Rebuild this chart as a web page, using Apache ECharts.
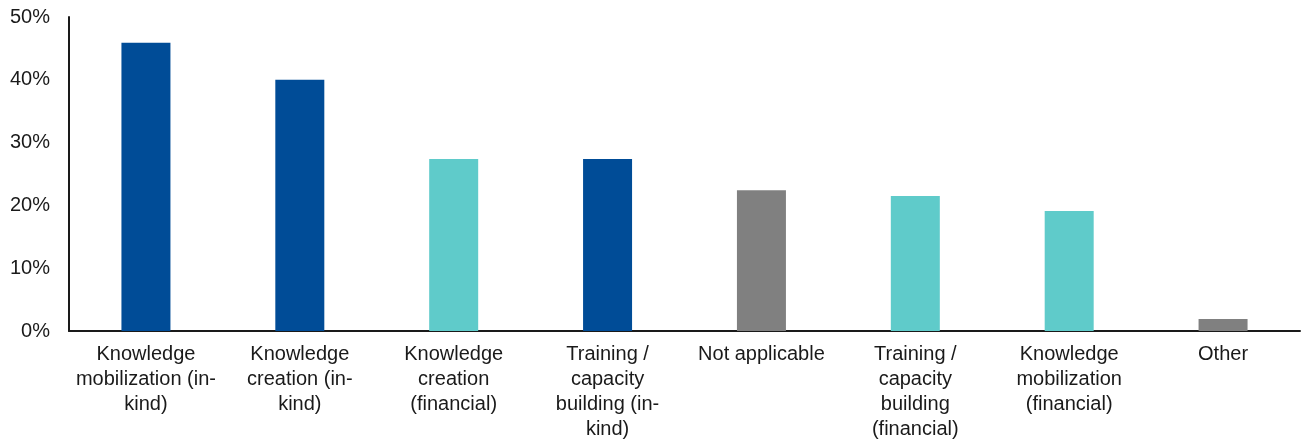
<!DOCTYPE html>
<html>
<head>
<meta charset="utf-8">
<script src="https://cdn.jsdelivr.net/npm/echarts@6/dist/echarts.min.js"></script>
<style>
  html, body { margin: 0; padding: 0; background: #fff; }
  #chart { width: 1301px; height: 443px; }
</style>
</head>
<body>
<div id="chart"></div>
<script>
// categories (line breaks as in the original)
var categories = [
  'Knowledge\nmobilization (in-\nkind)',
  'Knowledge\ncreation (in-\nkind)',
  'Knowledge\ncreation\n(financial)',
  'Training /\ncapacity\nbuilding (in-\nkind)',
  'Not applicable',
  'Training /\ncapacity\nbuilding\n(financial)',
  'Knowledge\nmobilization\n(financial)',
  'Other'
];
var values = [45.9, 40.0, 27.4, 27.4, 22.4, 21.5, 19.1, 1.9];
// kind of each bar: in-kind / financial / other
var kinds = ['inkind', 'inkind', 'financial', 'inkind', 'other', 'financial', 'financial', 'other'];

var kindColor = { inkind: '#004c97', financial: '#5fcbca', other: '#808080' };

var myChart = echarts.init(document.getElementById('chart'));
var option = {
  backgroundColor: '#ffffff',
  animation: false,
  grid: { left: 69, right: 1, top: 17, bottom: 112 },
  xAxis: {
    type: 'category',
    data: categories,
    axisLine: { lineStyle: { color: '#1a1a1a', width: 2 } },
    axisTick: { show: false },
    axisLabel: {
      interval: 0,
      margin: 11,
      color: '#1a1a1a',
      fontFamily: 'Liberation Sans, Arial, sans-serif',
      fontSize: 20,
      lineHeight: 25
    }
  },
  yAxis: {
    type: 'value',
    min: 0,
    max: 50,
    interval: 10,
    axisLine: { show: true, lineStyle: { color: '#1a1a1a', width: 2 } },
    axisTick: { show: false },
    splitLine: { show: false },
    axisLabel: {
      margin: 19,
      color: '#1a1a1a',
      fontFamily: 'Liberation Sans, Arial, sans-serif',
      fontSize: 20,
      formatter: '{value}%'
    }
  },
  series: [{
    type: 'bar',
    barWidth: 49,
    data: values.map(function (v, i) {
      return { value: v, itemStyle: { color: kindColor[kinds[i]] } };
    })
  }]
};
myChart.setOption(option);
</script>
</body>
</html>
